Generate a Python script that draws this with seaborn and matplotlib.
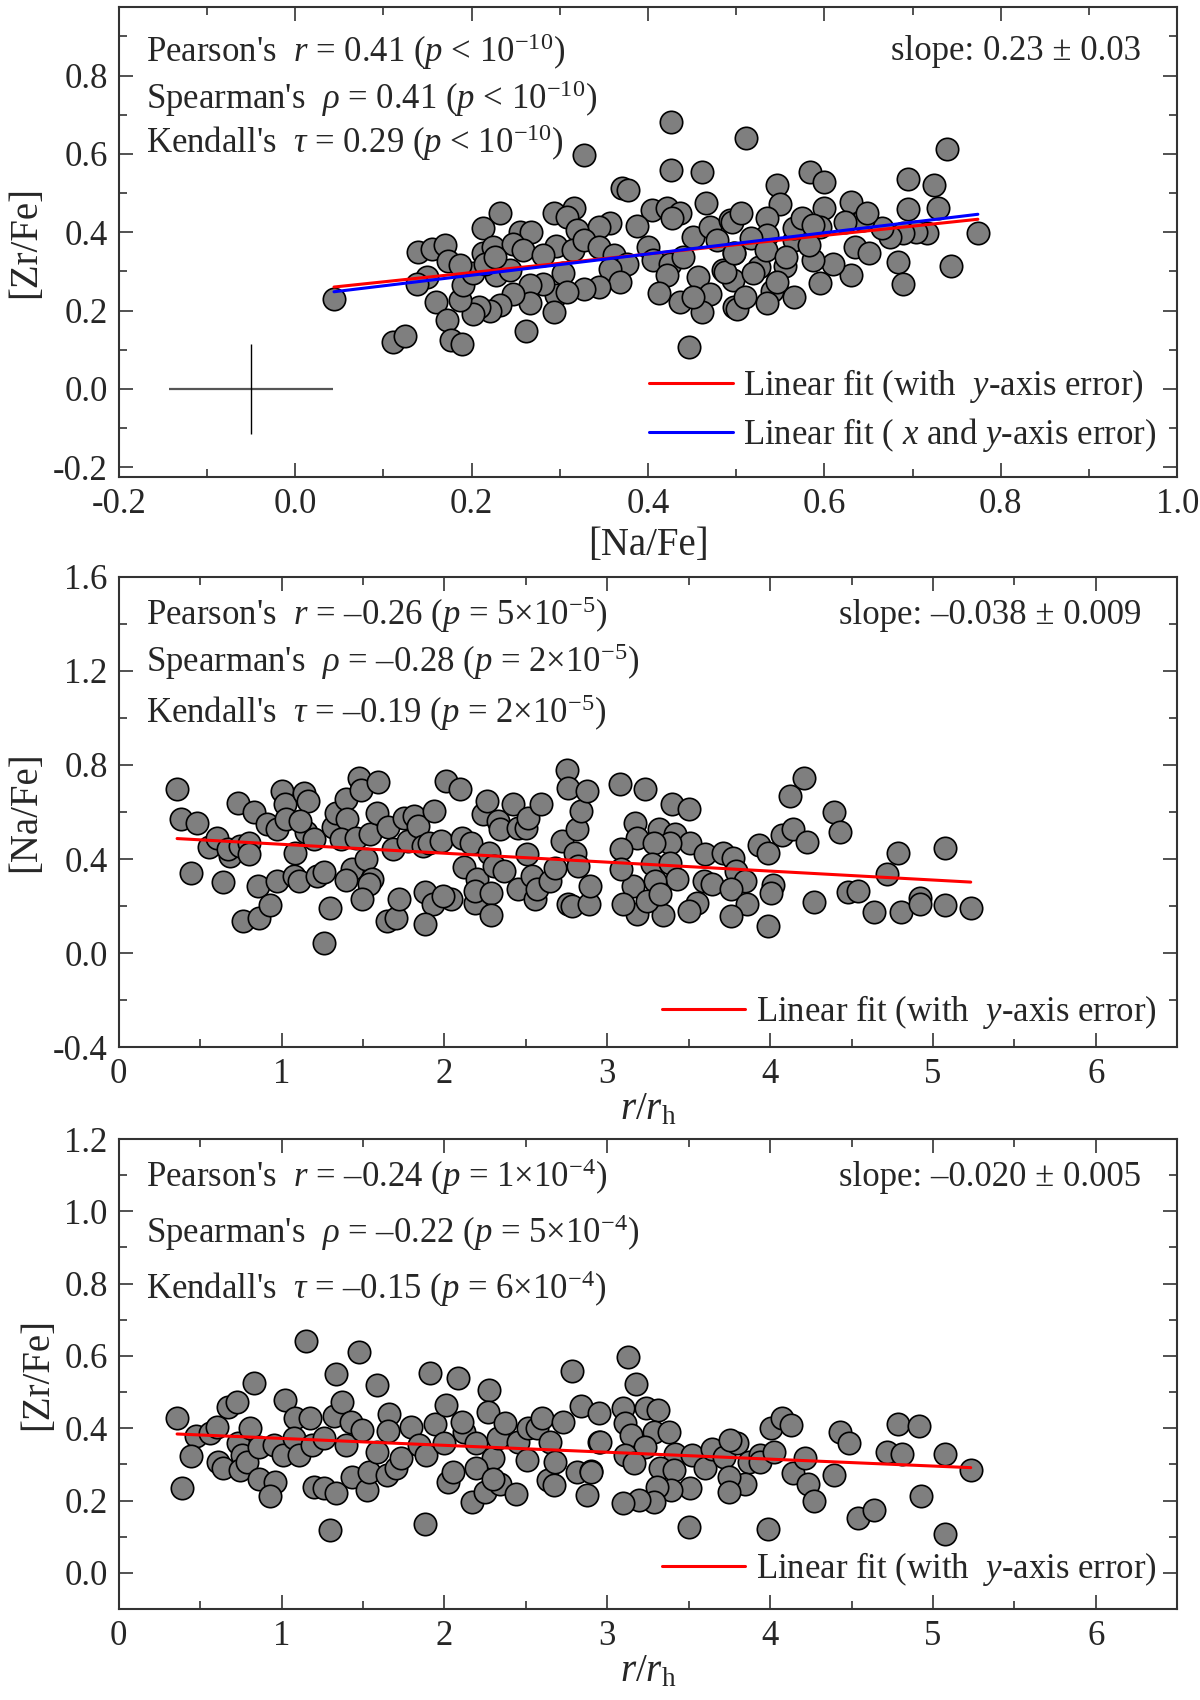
import numpy as np
import pandas as pd
import matplotlib
matplotlib.use("Agg")
import matplotlib.pyplot as plt
from matplotlib.ticker import MultipleLocator, FormatStrFormatter
import seaborn as sns

# ---- panel 1: [Zr/Fe] vs [Na/Fe]
top_x = [0.044, 0.426, 0.327, 0.426, 0.461, 0.371, 0.377, 0.232, 0.293, 0.316,
         0.308, 0.213, 0.255, 0.267, 0.405, 0.421, 0.436, 0.427, 0.466, 0.357,
         0.387, 0.345, 0.319, 0.139, 0.155, 0.170, 0.173, 0.213, 0.224, 0.247,
         0.258, 0.296, 0.281, 0.315, 0.328, 0.345, 0.362, 0.376, 0.357, 0.400,
         0.406, 0.425, 0.440, 0.451, 0.470, 0.493, 0.478, 0.497, 0.485, 0.457,
         0.421, 0.470, 0.461, 0.436, 0.412, 0.497, 0.446, 0.368, 0.345, 0.328,
         0.304, 0.296, 0.308, 0.281, 0.266, 0.266, 0.293, 0.262, 0.247, 0.232,
         0.221, 0.208, 0.202, 0.187, 0.190, 0.202, 0.228, 0.243, 0.215, 0.160,
         0.149, 0.138, 0.172, 0.177, 0.189, 0.111, 0.124, 0.187, 0.226, 0.451,
         0.511, 0.584, 0.600, 0.546, 0.550, 0.600, 0.630, 0.695, 0.724, 0.739,
         0.729, 0.695, 0.774, 0.744, 0.684, 0.689, 0.716, 0.704, 0.689, 0.674,
         0.665, 0.644, 0.623, 0.648, 0.635, 0.651, 0.630, 0.610, 0.595, 0.595,
         0.587, 0.565, 0.555, 0.541, 0.535, 0.526, 0.501, 0.496, 0.487, 0.495,
         0.506, 0.535, 0.535, 0.565, 0.565, 0.575, 0.517, 0.498, 0.534, 0.582,
         0.587, 0.519, 0.557, 0.510, 0.546]
top_y = [0.229, 0.681, 0.597, 0.559, 0.554, 0.513, 0.507, 0.448, 0.450, 0.463,
         0.438, 0.410, 0.401, 0.400, 0.457, 0.461, 0.448, 0.436, 0.474, 0.423,
         0.416, 0.414, 0.406, 0.350, 0.356, 0.367, 0.326, 0.348, 0.363, 0.371,
         0.354, 0.365, 0.342, 0.354, 0.380, 0.363, 0.342, 0.320, 0.307, 0.363,
         0.329, 0.320, 0.337, 0.389, 0.414, 0.431, 0.380, 0.346, 0.303, 0.286,
         0.290, 0.243, 0.196, 0.222, 0.245, 0.209, 0.106, 0.273, 0.260, 0.256,
         0.295, 0.239, 0.248, 0.269, 0.265, 0.218, 0.196, 0.149, 0.243, 0.213,
         0.200, 0.209, 0.192, 0.226, 0.265, 0.295, 0.290, 0.303, 0.320, 0.222,
         0.286, 0.269, 0.175, 0.124, 0.115, 0.119, 0.136, 0.316, 0.337, 0.235,
         0.641, 0.553, 0.527, 0.521, 0.471, 0.463, 0.478, 0.536, 0.521, 0.613,
         0.463, 0.459, 0.399, 0.314, 0.324, 0.269, 0.399, 0.401, 0.397, 0.389,
         0.410, 0.431, 0.427, 0.448, 0.363, 0.346, 0.290, 0.320, 0.271, 0.414,
         0.329, 0.235, 0.314, 0.249, 0.218, 0.312, 0.203, 0.277, 0.299, 0.427,
         0.448, 0.436, 0.393, 0.380, 0.410, 0.436, 0.384, 0.346, 0.354, 0.367,
         0.418, 0.295, 0.337, 0.235, 0.273]

# linear fits (slope, intercept)
top_fit_y = [0.237, 0.2496]
top_fit_xy = [0.271, 0.236]
# typical error bar (centre x, centre y, x err, y err)
err_cross = [-0.05, 0.0, 0.093, 0.115]

# ---- panel 2: [Na/Fe] vs r/rh
mid_x = [0.358, 0.385, 0.481, 0.442, 0.553, 0.601, 0.642, 0.683, 0.669, 0.735,
         0.745, 0.802, 0.800, 0.833, 0.765, 0.864, 0.854, 0.930, 0.971, 0.909,
         0.971, 1.002, 1.019, 1.029, 1.080, 1.074, 1.105, 1.136, 1.160, 1.150,
         1.198, 1.115, 1.218, 1.259, 1.294, 1.263, 1.317, 1.331, 1.393, 1.399,
         1.362, 1.454, 1.434, 1.393, 1.475, 1.490, 1.593, 1.516, 1.558, 1.537,
         1.496, 1.543, 1.588, 1.654, 1.687, 1.646, 1.702, 1.718, 1.753, 1.774,
         1.815, 1.840, 1.866, 1.907, 1.938, 1.881, 1.928, 1.881, 2.010, 2.093,
         1.979, 2.041, 1.990, 2.107, 2.117, 2.165, 2.185, 2.202, 2.185, 2.237,
         2.263, 2.288, 2.284, 2.274, 2.305, 2.329, 2.340, 2.366, 2.422, 2.449,
         2.453, 2.498, 2.504, 2.514, 2.535, 2.556, 2.566, 2.593, 2.648, 2.679,
         2.720, 2.751, 2.761, 2.813, 2.840, 2.875, 2.802, 2.819, 2.761, 2.782,
         2.885, 2.895,
         3.076, 3.229, 3.400, 3.501, 3.170, 3.317, 3.182, 3.418, 3.508, 3.383,
         3.087, 3.288, 3.277, 3.383, 3.603, 3.709, 3.773, 3.792, 3.844, 3.426,
         3.296, 3.158, 3.087, 3.596, 3.641, 3.761, 3.856, 3.761, 3.553, 3.501,
         3.340, 3.182, 3.099, 3.241, 3.324, 3.934, 3.986, 4.017, 4.005, 3.986,
         4.076, 4.140, 4.121, 4.210, 4.229, 4.270, 4.393, 4.428, 4.478, 4.541,
         4.636, 4.719, 4.783, 4.806, 4.920, 4.920, 5.073, 5.073, 5.232]
mid_y = [0.696, 0.569, 0.555, 0.339, 0.451, 0.491, 0.302, 0.413, 0.441, 0.640,
         0.455, 0.470, 0.420, 0.601, 0.136, 0.150, 0.285, 0.204, 0.306, 0.548,
         0.526, 0.689, 0.635, 0.569, 0.427, 0.328, 0.306, 0.682, 0.647, 0.516,
         0.484, 0.562, 0.328, 0.346, 0.190, 0.041, 0.538, 0.594, 0.654, 0.569,
         0.484, 0.488, 0.359, 0.311, 0.746, 0.694, 0.728, 0.399, 0.313, 0.292,
         0.231, 0.505, 0.597, 0.538, 0.441, 0.136, 0.150, 0.231, 0.576, 0.477,
         0.583, 0.540, 0.455, 0.467, 0.604, 0.261, 0.210, 0.125, 0.732, 0.696,
         0.477, 0.228, 0.243, 0.491, 0.367, 0.470, 0.214, 0.313, 0.264, 0.590,
         0.647, 0.257, 0.160, 0.427, 0.370, 0.562, 0.526, 0.349, 0.633, 0.271,
         0.533, 0.533, 0.420, 0.576, 0.328, 0.228, 0.271, 0.633, 0.306, 0.363,
         0.477, 0.779, 0.704, 0.526, 0.604, 0.689, 0.427, 0.370, 0.207, 0.200,
         0.207, 0.285,
         0.718, 0.699, 0.633, 0.611, 0.555, 0.529, 0.491, 0.505, 0.467, 0.470,
         0.441, 0.470, 0.377, 0.382, 0.420, 0.427, 0.406, 0.349, 0.306, 0.313,
         0.306, 0.285, 0.356, 0.306, 0.292, 0.271, 0.207, 0.157, 0.211, 0.179,
         0.162, 0.165, 0.207, 0.221, 0.250, 0.458, 0.427, 0.288, 0.254, 0.115,
         0.501, 0.526, 0.668, 0.746, 0.474, 0.218, 0.600, 0.516, 0.260, 0.264,
         0.176, 0.338, 0.427, 0.176, 0.235, 0.207, 0.448, 0.204, 0.190]
mid_fit = [-0.038, 0.5006]

# ---- panel 3: [Zr/Fe] vs r/rh
bot_x = [0.358, 0.387, 0.477, 0.442, 0.560, 0.601, 0.611, 0.642, 0.673, 0.724,
         0.735, 0.755, 0.745, 0.786, 0.807, 0.831, 0.864, 0.862, 0.961, 0.930,
         0.951, 1.008, 1.019, 1.084, 1.074, 1.105, 1.173, 1.150, 1.187, 1.198,
         1.259, 1.331, 1.294, 1.263, 1.321, 1.331, 1.372, 1.393, 1.428, 1.496,
         1.475, 1.434, 1.527, 1.537, 1.588, 1.588, 1.650, 1.702, 1.660, 1.654,
         1.733, 1.794, 1.845, 1.881, 1.912, 1.887, 1.944, 2.010, 2.000, 2.021,
         2.051, 2.086, 2.119, 2.107, 2.169, 2.195, 2.247, 2.274, 2.267, 2.298,
         2.329, 2.340, 2.370, 2.442, 2.453, 2.504, 2.514, 2.566, 2.597, 2.648,
         2.638, 2.679, 2.675, 2.730, 2.782, 2.813, 2.837, 2.875, 2.901, 2.947,
         2.947, 2.195, 2.298,
         3.128, 3.175, 3.095, 3.236, 3.312, 3.106, 3.284, 3.378, 2.957, 3.147,
         3.231, 3.416, 3.520, 3.111, 3.165, 3.324, 3.409, 2.898, 3.603, 3.643,
         3.714, 3.797, 3.754, 3.868, 3.844, 3.749, 3.749, 3.508, 3.390, 3.307,
         3.284, 3.194, 3.099, 3.501, 3.939, 3.939, 4.005, 4.073, 4.128, 4.021,
         3.986, 4.140, 4.217, 4.234, 4.270, 4.392, 4.430, 4.482, 4.541, 4.636,
         4.719, 4.785, 4.809, 4.913, 4.924, 5.073, 5.073, 5.232]
bot_y = [0.429, 0.235, 0.379, 0.323, 0.386, 0.404, 0.306, 0.289, 0.460, 0.474,
         0.358, 0.326, 0.284, 0.307, 0.400, 0.524, 0.349, 0.261, 0.252, 0.213,
         0.354, 0.326, 0.478, 0.429, 0.372, 0.326, 0.428, 0.640, 0.354, 0.238,
         0.234, 0.220, 0.118, 0.372, 0.435, 0.550, 0.474, 0.354, 0.418, 0.395,
         0.612, 0.266, 0.229, 0.280, 0.335, 0.520, 0.271, 0.289, 0.439, 0.392,
         0.317, 0.404, 0.354, 0.135, 0.554, 0.326, 0.412, 0.464, 0.358, 0.252,
         0.280, 0.540, 0.391, 0.418, 0.197, 0.358, 0.224, 0.506, 0.446, 0.319,
         0.372, 0.245, 0.414, 0.218, 0.363, 0.312, 0.400, 0.400, 0.429, 0.363,
         0.257, 0.307, 0.243, 0.418, 0.559, 0.280, 0.462, 0.215, 0.283, 0.363,
         0.441, 0.289, 0.261,
         0.596, 0.522, 0.457, 0.457, 0.451, 0.414, 0.391, 0.391, 0.363, 0.381,
         0.349, 0.328, 0.326, 0.326, 0.303, 0.289, 0.284, 0.280, 0.289, 0.344,
         0.321, 0.358, 0.367, 0.307, 0.247, 0.266, 0.224, 0.234, 0.229, 0.238,
         0.197, 0.201, 0.192, 0.127, 0.326, 0.307, 0.400, 0.428, 0.409, 0.335,
         0.121, 0.277, 0.319, 0.246, 0.199, 0.271, 0.389, 0.358, 0.151, 0.174,
         0.333, 0.411, 0.328, 0.406, 0.212, 0.328, 0.107, 0.284]
bot_fit = [-0.0191, 0.391]

top_stats = ["Pearson's  $r$ = 0.41 ($p$ < 10$^{-10}$)",
             "Spearman's  $\\rho$ = 0.41 ($p$ < 10$^{-10}$)",
             "Kendall's  $\\tau$ = 0.29 ($p$ < 10$^{-10}$)"]
mid_stats = ["Pearson's  $r$ = \u20130.26 ($p$ = 5\u00d710$^{-5}$)",
             "Spearman's  $\\rho$ = \u20130.28 ($p$ = 2\u00d710$^{-5}$)",
             "Kendall's  $\\tau$ = \u20130.19 ($p$ = 2\u00d710$^{-5}$)"]
bot_stats = ["Pearson's  $r$ = \u20130.24 ($p$ = 1\u00d710$^{-4}$)",
             "Spearman's  $\\rho$ = \u20130.22 ($p$ = 5\u00d710$^{-4}$)",
             "Kendall's  $\\tau$ = \u20130.15 ($p$ = 6\u00d710$^{-4}$)"]
slope_labels = ["slope: 0.23 \u00b1 0.03",
                "slope: \u20130.038 \u00b1 0.009",
                "slope: \u20130.020 \u00b1 0.005"]
fit_y_label = "Linear fit (with  $y$-axis error)"
fit_xy_label = "Linear fit ( $x$ and $y$-axis error)"

sns.set_style("ticks")
plt.rcParams['font.family'] = ['Liberation Serif', 'DejaVu Serif']
plt.rcParams['mathtext.fontset'] = 'custom'
plt.rcParams['mathtext.rm'] = 'Liberation Serif'
plt.rcParams['mathtext.it'] = 'Liberation Serif:italic'
plt.rcParams['mathtext.bf'] = 'Liberation Serif:bold'
plt.rcParams['axes.unicode_minus'] = False

FS = 25
GRAY = '#7f7f7f'


def style_axis(ax, xmaj, xmin, ymaj, ymin, xfmt, yfmt):
    """Box frame with inward ticks on every side, like the paper figure."""
    ax.xaxis.set_major_locator(MultipleLocator(xmaj))
    ax.xaxis.set_minor_locator(MultipleLocator(xmin))
    ax.yaxis.set_major_locator(MultipleLocator(ymaj))
    ax.yaxis.set_minor_locator(MultipleLocator(ymin))
    ax.xaxis.set_major_formatter(FormatStrFormatter(xfmt))
    ax.yaxis.set_major_formatter(FormatStrFormatter(yfmt))
    ax.tick_params(which='both', direction='in', top=True, right=True,
                   labelsize=FS, color='#333333', width=1.2)
    ax.tick_params(which='major', length=10, pad=8)
    ax.tick_params(which='minor', length=6)
    for sp in ax.spines.values():
        sp.set_visible(True)
        sp.set_linewidth(1.5)
        sp.set_color('#333333')


def add_stats(ax, lines, slope, ys):
    for txt, yy in zip(lines, ys):
        ax.text(0.026, yy, txt, transform=ax.transAxes, fontsize=FS,
                va='center', ha='left')
    ax.text(0.966, ys[0], slope, transform=ax.transAxes, fontsize=FS,
            va='center', ha='right')


def scatter(ax, xs, ys):
    df = pd.DataFrame({'x': xs, 'y': ys})
    sns.scatterplot(data=df, x='x', y='y', ax=ax, s=260, color=GRAY,
                    edgecolor='black', linewidth=1.2, zorder=2)


def fit_line(ax, xs, coef, color, label):
    xx = np.array([min(xs), max(xs)])
    ax.plot(xx, coef[1] + coef[0] * xx, color=color, lw=2.2, label=label,
            zorder=3)


def add_legend(ax, y0):
    ax.legend(loc='lower right', bbox_to_anchor=(1.0, y0), frameon=False,
              fontsize=FS, handlelength=2.4, handletextpad=0.3,
              borderaxespad=0.2, labelspacing=0.3)


fig = plt.figure(figsize=(12, 17), dpi=100)
L, W, H = 0.099, 0.882, 0.2765
ax1 = fig.add_axes([L, 0.7194, W, H])
ax2 = fig.add_axes([L, 0.3841, W, H])
ax3 = fig.add_axes([L, 0.0535, W, H])

# panel 1
scatter(ax1, top_x, top_y)
fit_line(ax1, top_x, top_fit_y, 'red', fit_y_label)
fit_line(ax1, top_x, top_fit_xy, 'blue', fit_xy_label)
ax1.errorbar([err_cross[0]], [err_cross[1]], xerr=[err_cross[2]],
             fmt='none', ecolor='#555555', elinewidth=1.6, capsize=0)
ax1.errorbar([err_cross[0]], [err_cross[1]], yerr=[err_cross[3]],
             fmt='none', ecolor='black', elinewidth=1.0, capsize=0)
ax1.set_xlim(-0.2, 1.0)
ax1.set_ylim(-0.225, 0.975)
style_axis(ax1, 0.2, 0.1, 0.2, 0.1, '%.1f', '%.1f')
ax1.set_xlabel('[Na/Fe]', fontsize=FS + 3, labelpad=4)
ax1.set_ylabel('[Zr/Fe]', fontsize=FS + 3, labelpad=6)
add_stats(ax1, top_stats, slope_labels[0], [0.906, 0.806, 0.711])
add_legend(ax1, 0.005)

# panel 2
scatter(ax2, mid_x, mid_y)
fit_line(ax2, mid_x, mid_fit, 'red', fit_y_label)
ax2.set_xlim(0, 6.5)
ax2.set_ylim(-0.4, 1.6)
style_axis(ax2, 1, 0.5, 0.4, 0.2, '%d', '%.1f')
ax2.set_xlabel('$r/r_{\\rm h}$', fontsize=FS + 3, labelpad=0)
ax2.set_ylabel('[Na/Fe]', fontsize=FS + 3, labelpad=6)
add_stats(ax2, mid_stats, slope_labels[1], [0.919, 0.819, 0.712])
add_legend(ax2, -0.01)

# panel 3
scatter(ax3, bot_x, bot_y)
fit_line(ax3, bot_x, bot_fit, 'red', fit_y_label)
ax3.set_xlim(0, 6.5)
ax3.set_ylim(-0.1, 1.2)
style_axis(ax3, 1, 0.5, 0.2, 0.1, '%d', '%.1f')
ax3.set_xlabel('$r/r_{\\rm h}$', fontsize=FS + 3, labelpad=0)
ax3.set_ylabel('[Zr/Fe]', fontsize=FS + 3, labelpad=6)
add_stats(ax3, bot_stats, slope_labels[2], [0.919, 0.800, 0.681])
add_legend(ax3, 0.0)

fig.savefig('out.png', dpi=100)
